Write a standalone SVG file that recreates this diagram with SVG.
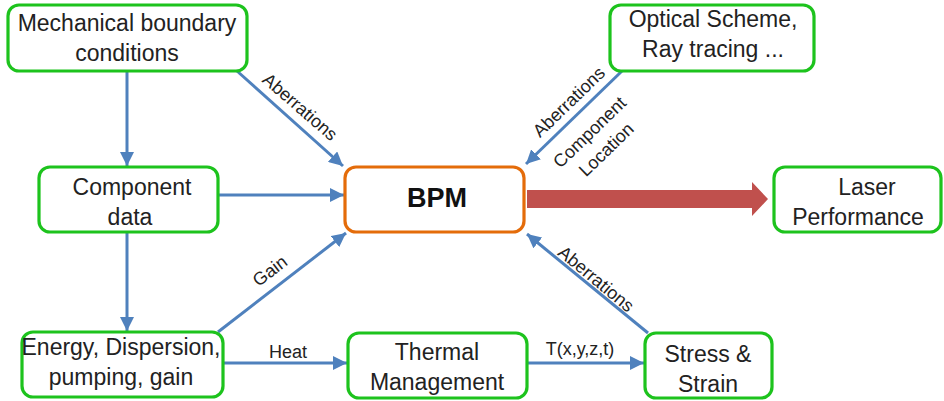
<svg xmlns="http://www.w3.org/2000/svg" width="944" height="401" viewBox="0 0 944 401">
<defs>
<style>
.box{fill:#fff;stroke:#1DC31D;stroke-width:3.2}
.bpm{fill:#fff;stroke:#E46C0A;stroke-width:3.2}
.t{font-family:"Liberation Sans",Arial,sans-serif;font-size:23px;fill:#222;text-anchor:middle}
.b{font-weight:bold;font-size:27px;fill:#111}
.lbl{font-family:"Liberation Sans",Arial,sans-serif;font-size:18px;fill:#222;text-anchor:middle}
.c{stroke:#4F81BD;stroke-width:3;fill:none;marker-end:url(#ah)}
</style>
<marker id="ah" markerUnits="userSpaceOnUse" markerWidth="16" markerHeight="14" refX="14" refY="7" orient="auto">
<path d="M0,0 L14,7 L0,14 Z" fill="#4F81BD"/>
</marker>
</defs>
<rect width="944" height="401" fill="#fff"/>
<g id="connectors">
<line class="c" x1="127" y1="71" x2="127" y2="166"/>
<line class="c" x1="237" y1="71" x2="343" y2="166"/>
<line class="c" x1="218" y1="195" x2="344" y2="195"/>
<line class="c" x1="127" y1="232" x2="127" y2="331"/>
<line class="c" x1="218" y1="332" x2="346" y2="233"/>
<line class="c" x1="223" y1="363" x2="347" y2="363"/>
<line class="c" x1="527" y1="363" x2="644" y2="363"/>
<line class="c" x1="648" y1="333" x2="527" y2="234"/>
<line class="c" x1="622" y1="71" x2="526" y2="164"/>
<path d="M527,190 L752,190 L752,182 L768,199 L752,216 L752,208 L527,208 Z" fill="#C0504D"/>
<g transform="translate(300,107) rotate(41)"><text class="lbl" x="0" y="6">Aberrations</text></g>
<g transform="translate(270,271) rotate(-37.5)"><text class="lbl" x="0" y="6">Gain</text></g>
<text class="lbl" x="288" y="358">Heat</text>
<text class="lbl" x="580" y="355">T(x,y,z,t)</text>
<g transform="translate(596,279) rotate(39.6)"><text class="lbl" x="0" y="6">Aberrations</text></g>
<g transform="translate(569,102) rotate(-44)"><text class="lbl" x="0" y="6">Aberrations</text></g>
<g transform="translate(598,141) rotate(-44)"><text class="lbl" x="0" y="-6">Component</text><text class="lbl" x="0" y="18">Location</text></g>
</g>
<g id="mechanical">
<rect class="box" x="8" y="5" width="239" height="66" rx="11"/>
<text class="t" x="127" y="31">Mechanical boundary</text>
<text class="t" x="127" y="61">conditions</text>
</g>
<g id="optical">
<rect class="box" x="610" y="5" width="204" height="66" rx="11"/>
<text class="t" x="713" y="27">Optical Scheme,</text>
<text class="t" x="713" y="57">Ray tracing ...</text>
</g>
<g id="component">
<rect class="box" x="39" y="167" width="179" height="65" rx="11"/>
<text class="t" x="132" y="195">Component</text>
<text class="t" x="130" y="225">data</text>
</g>
<g id="bpm">
<rect class="bpm" x="345" y="167" width="179" height="65" rx="11"/>
<text class="t b" x="437" y="207">BPM</text>
</g>
<g id="laser">
<rect class="box" x="774" y="167" width="167" height="65" rx="11"/>
<text class="t" x="867" y="195">Laser</text>
<text class="t" x="858" y="225">Performance</text>
</g>
<g id="energy">
<rect class="box" x="22" y="332" width="201" height="65" rx="11"/>
<text class="t" x="121" y="355">Energy, Dispersion,</text>
<text class="t" x="121" y="385">pumping, gain</text>
</g>
<g id="thermal">
<rect class="box" x="348" y="333" width="179" height="65" rx="11"/>
<text class="t" x="437" y="360">Thermal</text>
<text class="t" x="437" y="390">Management</text>
</g>
<g id="stress">
<rect class="box" x="645" y="333" width="127" height="65" rx="11"/>
<text class="t" x="708" y="362">Stress &amp;</text>
<text class="t" x="708" y="392">Strain</text>
</g>
</svg>
